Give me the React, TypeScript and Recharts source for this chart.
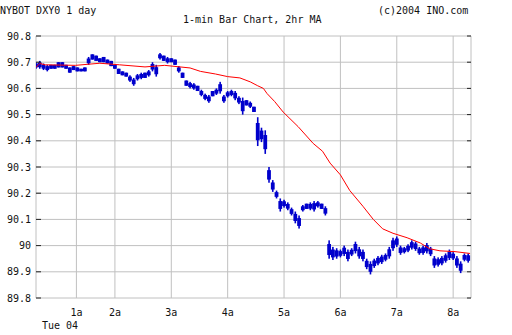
import { Bar, CartesianGrid, ComposedChart, Line, XAxis, YAxis } from "recharts";

// one sample every 4 one-minute bars, minute 0 = left edge of the plot
const barStep = 4;

const barHigh = [
  90.7, 90.705, 90.695, 90.69, 90.69, 90.69, 90.7, 90.7, 90.69, 90.68,
  90.685, 90.68, 90.675, 90.68, 90.72, 90.73, 90.725, 90.715, 90.72, 90.71,
  90.705, 90.69, 90.675, 90.665, 90.66, 90.65, 90.64, 90.655, 90.66, 90.66,
  90.67, 90.7, 90.69, 90.735, 90.725, 90.72, 90.715, 90.71, 90.685, 90.66,
  90.63, 90.625, 90.62, 90.61, 90.595, 90.58, 90.575, 90.59, 90.6, 90.625,
  90.575, 90.59, 90.595, 90.59, 90.57, 90.565, 90.555, 90.55, 90.53, 90.49,
  90.45, 90.44, 90.3, 90.25, 90.21, 90.18, 90.175, 90.165, 90.145, 90.13,
  90.115, 90.155, 90.16, 90.165, 90.17, 90.17, 90.16, 90.15, 90.02, 89.995,
  89.99, 89.985, 90.0, 89.985, 89.99, 90.015, 89.995, 89.985, 89.95, 89.94,
  89.95, 89.96, 89.965, 89.97, 89.995, 90.03, 90.035, 90.0, 89.995, 90.005,
  90.02, 90.015, 89.995, 90.0, 90.01, 89.995, 89.96, 89.955, 89.96, 89.97,
  89.985, 89.975, 89.96, 89.94, 89.97, 89.97,
];

const barLow = [
  90.675, 90.675, 90.67, 90.665, 90.675, 90.675, 90.68, 90.68, 90.675, 90.66,
  90.67, 90.665, 90.665, 90.665, 90.69, 90.71, 90.705, 90.7, 90.7, 90.695,
  90.685, 90.675, 90.655, 90.65, 90.645, 90.625, 90.61, 90.63, 90.635, 90.64,
  90.645, 90.665, 90.645, 90.71, 90.705, 90.695, 90.7, 90.69, 90.66, 90.64,
  90.61, 90.6, 90.595, 90.59, 90.57, 90.555, 90.545, 90.57, 90.575, 90.58,
  90.545, 90.565, 90.57, 90.555, 90.54, 90.5, 90.535, 90.525, 90.51, 90.38,
  90.395, 90.35, 90.24, 90.205, 90.18, 90.13, 90.145, 90.135, 90.115, 90.085,
  90.065, 90.13, 90.14, 90.135, 90.13, 90.145, 90.14, 90.115, 89.95, 89.945,
  89.95, 89.955, 89.96, 89.94, 89.96, 89.97, 89.95, 89.94, 89.91, 89.89,
  89.915, 89.925, 89.93, 89.94, 89.95, 89.98, 89.995, 89.965, 89.97, 89.975,
  89.985, 89.98, 89.965, 89.965, 89.97, 89.96, 89.915, 89.92, 89.925, 89.935,
  89.945, 89.945, 89.915, 89.895, 89.94, 89.935,
];

// 2hr moving average
const maMinute = [
  0, 4, 10, 42, 68, 89, 116, 137, 164, 175, 191, 204, 217, 228, 236, 242, 246, 254,
  263, 279, 295, 305, 313, 324, 334, 348, 359, 369, 380, 395, 409, 419, 430, 446, 462,
];
const maValue = [
  90.68, 90.695, 90.69, 90.688, 90.696, 90.69, 90.682, 90.688, 90.678, 90.665, 90.655,
  90.645, 90.64, 90.625, 90.61, 90.6, 90.58, 90.55, 90.51, 90.454, 90.39, 90.36, 90.315,
  90.27, 90.21, 90.15, 90.1, 90.064, 90.047, 90.03, 90.01, 89.988, 89.98, 89.977, 89.97,
];

const hourTicks = [43, 84, 144, 204, 264, 324, 384, 444];
const hourLabels = ["1a", "2a", "3a", "4a", "5a", "6a", "7a", "8a"];
const priceTicks = [89.8, 89.9, 90, 90.1, 90.2, 90.3, 90.4, 90.5, 90.6, 90.7, 90.8];

const barRows = barHigh.map((hi, i) => ({ minute: i * barStep, range: [barLow[i], hi] }));
const maRows = maMinute.map((m, i) => ({ minute: m, ma: maValue[i] }));

const mono = "'DejaVu Sans Mono', monospace";

function PriceTick(props: any) {
  const { y, payload } = props;
  return (
    <g>
      <text x={31} y={y} dy={3.5} textAnchor="end" fontSize={10} fontFamily={mono} fill="#111">
        {payload.value}
      </text>
      <line x1={36} x2={41} y1={y} y2={y} stroke="#222" />
      <line x1={467} x2={471} y1={y} y2={y} stroke="#222" />
    </g>
  );
}

function HourTick(props: any) {
  const { x, payload } = props;
  const idx = hourTicks.indexOf(payload.value);
  return (
    <text x={x} y={316} textAnchor="middle" fontSize={10} fontFamily={mono} fill="#111">
      {hourLabels[idx]}
    </text>
  );
}

// hi-lo stick: thin wick plus a thicker body in the middle
function Stick(props: any) {
  const { x, y, width, height, fill } = props;
  if (height == null || isNaN(y)) return null;
  const cx = x + width / 2;
  const h = Math.max(Math.abs(height), 2);
  const inner = h > 6 ? h * 0.6 : h;
  return (
    <g>
      <rect x={cx - 0.8} y={y} width={1.6} height={h} fill={fill} />
      <rect x={cx - 1.9} y={y + (h - inner) / 2} width={3.8} height={inner} fill={fill} />
    </g>
  );
}

const label: React.CSSProperties = {
  position: "absolute",
  fontFamily: mono,
  fontSize: 10,
  lineHeight: "12px",
  color: "#111",
  whiteSpace: "pre",
};

export default function App() {
  return (
    <div style={{ position: "absolute", left: 0, top: 0, width: 512, height: 335, background: "#fff" }}>
      <div style={{ ...label, left: 0, top: 5 }}>NYBOT DXY0 1 day</div>
      <div style={{ ...label, left: 183, top: 14 }}>1-min Bar Chart, 2hr MA</div>
      <div style={{ ...label, left: 378, top: 5 }}>(c)2004 INO.com</div>
      <div style={{ ...label, left: 42, top: 320 }}>Tue 04</div>
      <ComposedChart
        width={512}
        height={335}
        data={barRows}
        margin={{ top: 36, right: 41, bottom: 0, left: 0 }}
      >
        <CartesianGrid stroke="#c0c0c0" />
        <XAxis
          dataKey="minute"
          type="number"
          domain={[0, 463]}
          ticks={hourTicks}
          height={37}
          axisLine={false}
          tickLine={false}
          tick={<HourTick />}
          allowDataOverflow
        />
        <YAxis
          type="number"
          domain={[89.8, 90.8]}
          ticks={priceTicks}
          width={36}
          axisLine={false}
          tickLine={false}
          tick={<PriceTick />}
          allowDataOverflow
        />
        <Bar dataKey="range" fill="#0000cc" shape={<Stick />} isAnimationActive={false} />
        <Line
          data={maRows}
          dataKey="ma"
          type="linear"
          stroke="#ff0000"
          strokeWidth={1}
          dot={false}
          isAnimationActive={false}
        />
      </ComposedChart>
    </div>
  );
}
